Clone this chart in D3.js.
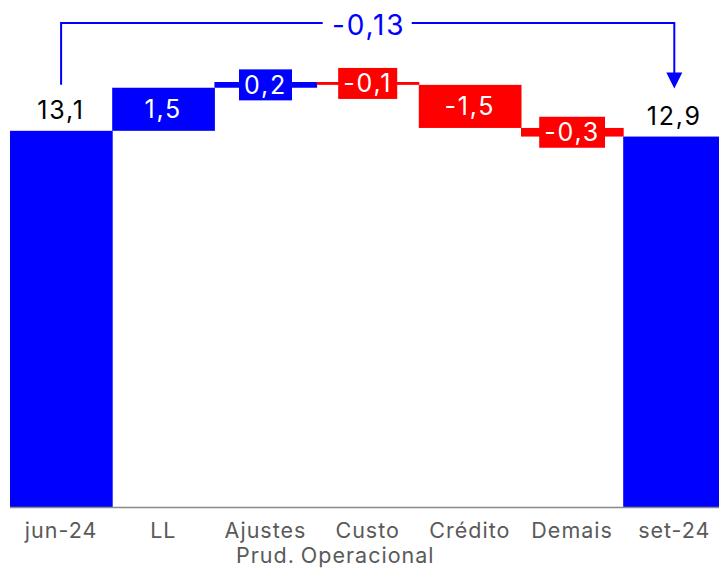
<!DOCTYPE html>
<html>
<head>
<meta charset="utf-8">
<script src="https://cdn.jsdelivr.net/npm/d3@7"></script>
<style>
  body { margin: 0; background: #fff; }
  svg { display: block; font-family: Inter, "Noto Sans", sans-serif; }
</style>
</head>
<body>
<svg id="chart" width="719" height="569"></svg>
<script>
// Data
const categories = [["jun-24"], ["LL"], ["Ajustes", "Prud."], ["Custo", "Operacional"], ["Crédito"], ["Demais"], ["set-24"]];
const values = [13.1, 1.5, 0.2, -0.1, -1.5, -0.3, 12.9];
const kinds = ["total", "delta", "delta", "delta", "delta", "delta", "total"];
const changeLabel = "-0,13";

const BLUE = "#0000ff", RED = "#ff0000";
const W = 719, H = 569;
const base = 507;

const fmt = v => d3.format(".1f")(v).replace(".", ",").replace("−", "-");

// running totals
let run = 0;
const bars = values.map((v, i) => {
    let y0, y1;
    if (kinds[i] === "total") { y0 = 0; y1 = v; run = v; }
    else { y0 = run; y1 = run + v; run = y1; }
    return {i, v, y0, y1, kind: kinds[i]};
});

const x = d3.scaleBand().domain(d3.range(categories.length)).range([10, 10 + 7 * 102.2]).padding(0);
const y = d3.scaleLinear().domain([0, 14.8]).range([base, 82]);

const svg = d3.select("#chart");

// bars
svg.selectAll("rect.bar")
    .data(bars)
    .join("rect")
    .attr("class", "bar")
    .attr("x", d => x(d.i))
    .attr("width", x.bandwidth() + 0.5)
    .attr("y", d => y(Math.max(d.y0, d.y1)))
    .attr("height", d => Math.max(2, Math.abs(y(d.y0) - y(d.y1))))
    .attr("fill", d => d.v < 0 ? RED : BLUE);

// axis line
svg.append("line")
    .attr("x1", 10).attr("x2", W)
    .attr("y1", base + 0.5).attr("y2", base + 0.5)
    .attr("stroke", "#8a8a8a").attr("stroke-width", 1.5);

// category labels
const cat = svg.selectAll("text.cat")
    .data(categories)
    .join("text")
    .attr("class", "cat")
    .attr("x", (d, i) => x(i) + x.bandwidth() / 2)
    .attr("y", 538)
    .attr("text-anchor", "middle")
    .attr("font-size", "21.5px")
    .attr("letter-spacing", "1px")
    .attr("fill", "#5a5a5a");
cat.selectAll("tspan")
    .data(d => d)
    .join("tspan")
    .attr("x", function () { return this.parentNode.getAttribute("x"); })
    .attr("dy", (d, j) => j === 0 ? 0 : 25)
    .text(d => d);

// value labels
bars.forEach(d => {
    const cx = x(d.i) + x.bandwidth() / 2;
    const top = y(Math.max(d.y0, d.y1));
    const bot = y(Math.min(d.y0, d.y1));
    if (d.kind === "total") {
        svg.append("text")
            .attr("x", cx).attr("y", top - 12)
            .attr("text-anchor", "middle")
            .attr("font-size", "25px")
            .attr("letter-spacing", "1.8px")
            .attr("fill", "#000")
            .text(fmt(d.v));
        return;
    }
    const mid = (top + bot) / 2;
    const g = svg.append("g");
    const small = (bot - top) < 34;
    const bg = g.append("rect").attr("fill", d.v < 0 ? RED : BLUE);
    const t = g.append("text")
        .attr("x", cx).attr("y", mid)
        .attr("text-anchor", "middle")
        .attr("dominant-baseline", "central")
        .attr("font-size", "25px")
        .attr("letter-spacing", "1.8px")
        .attr("fill", "#fff")
        .text(fmt(d.v));
    if (small) {
        const bb = t.node().getBBox();
        bg.attr("x", cx - bb.width / 2 - 5).attr("width", bb.width + 10)
          .attr("y", mid - 15.5).attr("height", 31);
    } else {
        bg.remove();
    }
});

// overall change bracket
const xa = x(0) + x.bandwidth() / 2;
const xb = x(6) + x.bandwidth() / 2;
const xm = (xa + xb) / 2;
const yTop = 23;
svg.append("path")
    .attr("d", `M${xa},${y(values[0]) - 46} V${yTop} H${xm - 45}`)
    .attr("fill", "none").attr("stroke", BLUE).attr("stroke-width", 2);
svg.append("path")
    .attr("d", `M${xm + 44},${yTop} H${xb} V${y(values[6]) - 62}`)
    .attr("fill", "none").attr("stroke", BLUE).attr("stroke-width", 2);
const tip = y(values[6]) - 48;
svg.append("path")
    .attr("d", `M${xb - 8},${tip - 16} L${xb + 8},${tip - 16} L${xb},${tip} Z`)
    .attr("fill", BLUE);
svg.append("text")
    .attr("x", xm + 1).attr("y", 35)
    .attr("text-anchor", "middle")
    .attr("font-size", "28px")
    .attr("letter-spacing", "1.8px")
    .attr("fill", BLUE)
    .text(changeLabel);
</script>
</body>
</html>
